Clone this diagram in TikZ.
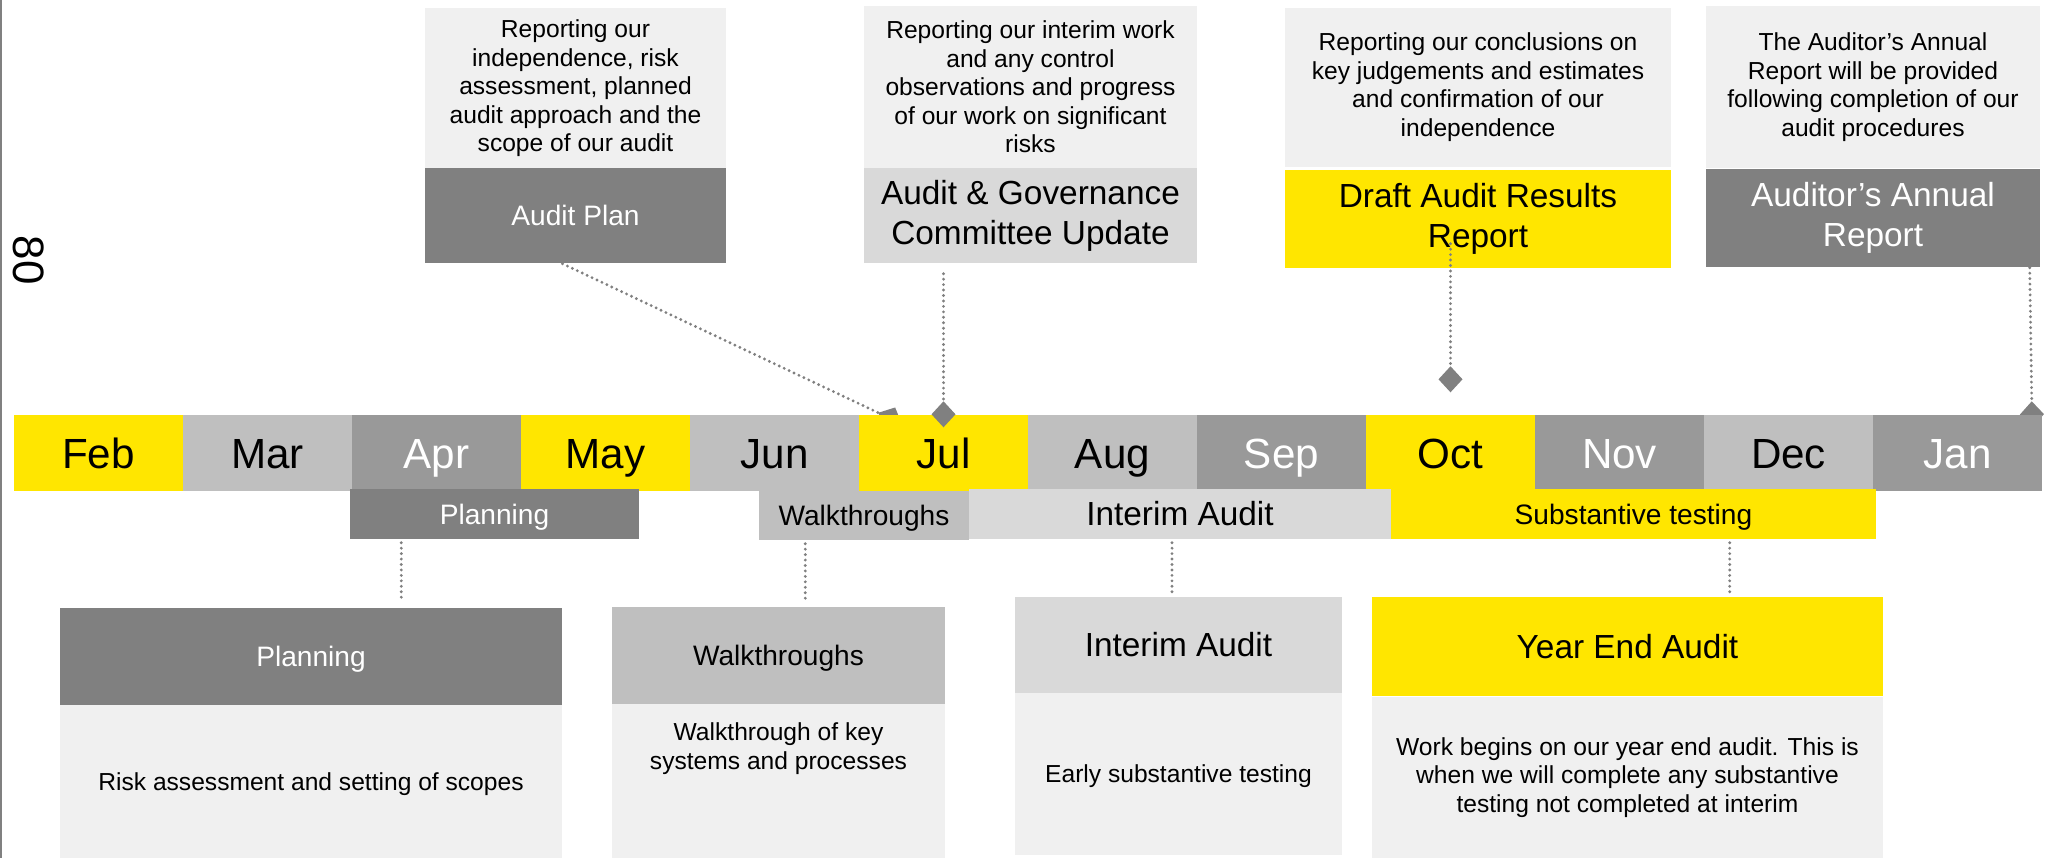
\documentclass[tikz,border=0pt]{standalone}
\usepackage{fontspec}
\setmainfont{Liberation Sans}
\usetikzlibrary{arrows.meta}
\definecolor{eyyellow}{RGB}{255,230,0}
\definecolor{eygrey}{RGB}{128,128,128}
\definecolor{eymid}{RGB}{153,153,153}
\definecolor{eylight}{RGB}{191,191,191}
\definecolor{eypale}{RGB}{217,217,217}
\definecolor{eyback}{RGB}{240,240,240}
\pgfdeclarelayer{back}
\pgfsetlayers{back,main}

\begin{document}
\begin{tikzpicture}[x=0.1mm,y=-0.1mm]

%
% Styles
%
\tikzstyle{box} = [rectangle,inner sep=0pt,align=center,text=black]
\tikzstyle{month} = [box,minimum width=16.95mm,minimum height=7.6mm,font=\fontsize{12}{14}\selectfont,text height=8.6pt,text depth=0pt]
\tikzstyle{note} = [box,fill=eyback,font=\fontsize{7}{8.1}\selectfont]
\tikzstyle{noteline} = [note,text height=5pt,text depth=0pt]
\tikzstyle{smallhead} = [font=\fontsize{8}{9.6}\selectfont]
\tikzstyle{largehead} = [font=\fontsize{9.5}{11.4}\selectfont]
\tikzstyle{smallline} = [smallhead,text height=5.7pt,text depth=0pt]
\tikzstyle{largeline} = [largehead,text height=6.8pt,text depth=0pt]
\tikzstyle{link} = [draw=eygrey,line width=0.9pt,line cap=round,dash pattern=on 0pt off 1.55pt]
\tikzstyle{tip} = [-{Diamond[length=2.6mm,width=2.4mm,fill=eygrey]}]

\useasboundingbox (0,0) rectangle (2058,858);
\draw[eygrey,line width=0.2mm] (1.5,0) -- (1.5,858);
\node[rotate=-90,font=\fontsize{12.5}{15}\selectfont] (pageno) at (29,260) {80};

% reports
\node[note,minimum width=30.1mm,minimum height=16.1mm] (apnote) at (575.5,88.5)
  {Reporting our\\independence, risk\\assessment, planned\\audit approach and the\\scope of our audit};
\node[box,fill=eygrey,text=white,smallline,minimum width=30.1mm,minimum height=9.5mm] (aplan) at (575.5,215.5) {Audit Plan};

\node[note,minimum width=33.3mm,minimum height=16.2mm] (agnote) at (1030.5,87)
  {Reporting our interim work\\and any control\\observations and progress\\of our work on significant\\risks};
\node[box,fill=eypale,largehead,minimum width=33.3mm,minimum height=9.5mm] (agc) at (1030.5,215.5) {Audit \& Governance\\Committee Update};

\node[note,minimum width=38.6mm,minimum height=15.9mm] (darnote) at (1478,87)
  {Reporting our conclusions on\\key judgements and estimates\\and confirmation of our\\independence};
\node[box,fill=eyyellow,largehead,minimum width=38.6mm,minimum height=9.8mm] (dar) at (1478,219) {Draft Audit Results\\Report};

\node[note,minimum width=33.4mm,minimum height=16.2mm] (aarnote) at (1873,87)
  {The Auditor’s Annual\\Report will be provided\\following completion of our\\audit procedures};
\node[box,fill=eygrey,text=white,largehead,minimum width=33.4mm,minimum height=9.8mm] (aar) at (1873,218) {Auditor’s Annual\\Report};

% months
\node[month,fill=eyyellow]          (feb) at (  98.5,453) {Feb};
\node[month,fill=eylight]           (mar) at ( 267.5,453) {Mar};
\node[month,fill=eymid,text=white]  (apr) at ( 436.5,453) {Apr};
\node[month,fill=eyyellow]          (may) at ( 605.5,453) {May};
\node[month,fill=eylight]           (jun) at ( 774.5,453) {Jun};
\node[month,fill=eyyellow]          (jul) at ( 943.5,453) {Jul};
\node[month,fill=eylight]           (aug) at (1112.5,453) {Aug};
\node[month,fill=eymid,text=white]  (sep) at (1281.5,453) {Sep};
\node[month,fill=eyyellow]          (oct) at (1450.5,453) {Oct};
\node[month,fill=eymid,text=white]  (nov) at (1619.5,453) {Nov};
\node[month,fill=eylight]           (dec) at (1788.5,453) {Dec};
\node[month,fill=eymid,text=white]  (jan) at (1957.5,453) {Jan};

\begin{pgfonlayer}{back}
\draw[link,tip,shorten >=-1.3mm] ([xshift=-1.3mm]aplan.south) -- ([xshift=3.2mm,yshift=-0.4mm]jul.north west);
\draw[link,tip,shorten >=-1.3mm] ([xshift=-1.1mm]aar.south east) -- ([xshift=-1.1mm]jan.north east);
\end{pgfonlayer}
\draw[link,tip,shorten <=1mm,shorten >=-1.3mm] (agc.south -| jul.north) -- (jul.north);
\draw[link,tip,shorten <=-2.5mm,shorten >=2.2mm] (dar.south -| oct.north) -- (oct.north);

% phases
\node[box,fill=eygrey,text=white,smallline,minimum width=28.9mm,minimum height=5mm] (phplan) at (494.5,514) {Planning};
\node[box,fill=eylight,smallline,minimum width=21mm,minimum height=4.9mm]           (phwalk) at (864,515.5) {Walkthroughs};
\node[box,fill=eypale,largeline,minimum width=42.2mm,minimum height=5mm]            (phint) at (1180,514) {Interim Audit};
\node[box,fill=eyyellow,smallline,minimum width=48.5mm,minimum height=5mm]          (phsub) at (1633.5,514) {Substantive testing};

% audit stages
\node[box,fill=eygrey,text=white,smallline,minimum width=50.2mm,minimum height=9.7mm] (dplan) at (311,656.5) {Planning};
\node[noteline,minimum width=50.2mm,minimum height=15.3mm] (dplannote) at (311,781.5) {Risk assessment and setting of scopes};

\node[box,fill=eylight,smallline,minimum width=33.3mm,minimum height=9.7mm] (dwalk) at (778.5,655.5) {Walkthroughs};
\node[note,minimum width=33.3mm,minimum height=15.4mm] (dwalknote) at (778.5,781) {};
\node[note,anchor=north] at ([yshift=-1.9mm]dwalknote.north) {Walkthrough of key\\systems and processes};

\node[box,fill=eypale,largeline,minimum width=32.7mm,minimum height=9.6mm] (dint) at (1178.5,645) {Interim Audit};
\node[noteline,minimum width=32.7mm,minimum height=16.2mm] (dintnote) at (1178.5,774) {Early substantive testing};

\node[box,fill=eyyellow,largeline,minimum width=51.1mm,minimum height=9.9mm] (dyear) at (1627.5,646.5) {Year End Audit};
\node[note,minimum width=51.1mm,minimum height=16.1mm] (dyearnote) at (1627.5,777.5)
  {Work begins on our year end audit. This is\\when we will complete any substantive\\testing not completed at interim};

\coordinate (wplan) at ([xshift=5.2mm]phplan.south west);
\coordinate (wwalk) at ([xshift=4.7mm]phwalk.south west);
\coordinate (wint)  at ([xshift=-0.8mm]phint.south);
\coordinate (wsub)  at ([xshift=-14.7mm]phsub.south east);
\draw[link,shorten <=0.3mm,shorten >=0.7mm] (wplan) -- (wplan |- dplan.north);
\draw[link,shorten <=0.3mm,shorten >=0.3mm] (wwalk) -- (wwalk |- dwalk.north);
\draw[link,shorten <=0.3mm,shorten >=0.4mm] (wint)  -- (wint |- dint.north);
\draw[link,shorten <=0.3mm,shorten >=0.2mm] (wsub)  -- (wsub |- dyear.north);

\end{tikzpicture}
\end{document}
